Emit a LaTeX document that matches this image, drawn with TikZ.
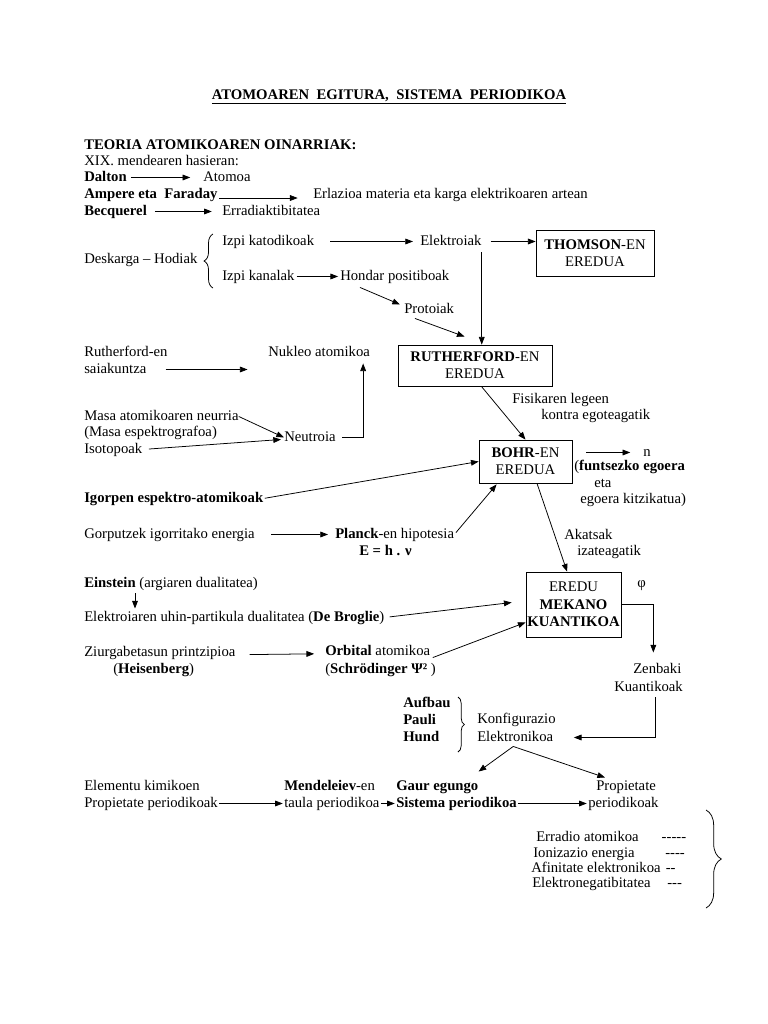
\documentclass[tikz,border=0pt]{standalone}
\usepackage{fontspec}
\setmainfont{Liberation Serif}
\usepackage{tikz}
\usetikzlibrary{calc,arrows.meta,decorations.pathreplacing}
% one unit = one pixel of the 768 x 1024 sheet
\newcommand\upx{0.0275cm}
\tikzset{
  txt/.style={anchor=base west, inner sep=0pt, text height=8pt, text depth=2.5pt},
  model/.style={draw, line width=0.6pt, align=center, inner sep=0pt},
  arr/.style={-{Triangle[length=6pt,width=4.5pt]}, line width=0.6pt},
  brc/.style={decorate, decoration={brace, amplitude=#1}, line width=0.6pt},
}

\begin{document}
\begin{tikzpicture}[x=\upx, y=-\upx, font=\fontsize{11.5}{13.5}\selectfont]
% sheet: origin top left, y runs downward
\fill[white] (0,0) rectangle (768,1024);
\useasboundingbox (0,0) rectangle (768,1024);
% Title and the early XIX century lines
\node[anchor=base, inner sep=0pt, font=\fontsize{11.5}{13.5}\selectfont\bfseries] (title)
  at (389,99) {\underline{ATOMOAREN\ \ EGITURA,\ \ SISTEMA\ \ PERIODIKOA}};
\node[txt] (head) at (84,149) {\textbf{TEORIA ATOMIKOAREN OINARRIAK:}};
\node[txt] (xix) at (84,165) {XIX. mendearen hasieran:};
\node[txt] (dalton) at (84,181) {\textbf{Dalton}};
\node[txt] (atomoa) at (203,181) {Atomoa};
\node[txt] (ampere) at (84,198) {\textbf{Ampere eta\ \ Faraday}};
\node[txt] (erlazio) at (313,198) {Erlazioa materia eta karga elektrikoaren artean};
\node[txt] (becq) at (84,215) {\textbf{Becquerel}};
\node[txt] (errad) at (222,215) {Erradiaktibitatea};
\draw[arr, shorten <=3pt, shorten >=10pt] (dalton.east) -- (atomoa.west);
\draw[arr, shorten <=1pt, shorten >=12pt] (ampere.base east) -- (erlazio.base west);
\draw[arr, shorten <=6pt, shorten >=8pt] (becq.east) -- (errad.west);
% Discharge tubes: cathode rays and canal rays
\node[txt] (deskarga) at (84,263) {Deskarga – Hodiak};
\node[txt] (izpikat) at (222,245) {Izpi katodikoak};
\node[txt] (elektroiak) at (420,245) {Elektroiak};
\node[txt] (izpikan) at (222,280) {Izpi kanalak};
\node[txt] (hondar) at (340,280) {Hondar positiboak};
\node[txt] (protoiak) at (404,313) {Protoiak};
\node[model, minimum width=118*\upx, minimum height=46*\upx] (thomson)
  at (595,253) {\textbf{THOMSON}-EN\\EREDUA};
\draw[brc=7pt] (213,288) -- (213,234);
\draw[arr, shorten <=12.5pt, shorten >=5.5pt] (izpikat.east) -- (elektroiak.west);
\draw[arr, shorten <=7pt] (elektroiak.east) -- (elektroiak.east -| thomson.west);
\draw[arr, shorten <=1.5pt, shorten >=1.5pt] (izpikan.east) -- (hondar.west);
\draw[arr] ([shift={(20,4)}]hondar.south west) -- ([shift={(-4,-5)}]protoiak.west);
% Rutherford
\node[txt] (rexp1) at (84,356) {Rutherford-en};
\node[txt] (rexp2) at (84,373) {saiakuntza};
\node[txt] (nukleo) at (268,356) {Nukleo atomikoa};
\node[model, minimum width=154*\upx, minimum height=41*\upx] (ruth)
  at (475,365.5) {\textbf{RUTHERFORD}-EN\\EREDUA};
\node[txt] (masa1) at (84,420) {Masa atomikoaren neurria};
\node[txt] (masa2) at (84,436) {(Masa espektrografoa)};
\node[txt] (isotop) at (84,453) {Isotopoak};
\node[txt] (neutroia) at (284,441) {Neutroia};
\node[txt] (fisik1) at (512,403) {Fisikaren legeen};
\node[txt] (fisik2) at (541,419) {kontra egoteagatik};
\draw[arr] ([shift={(11,2)}]protoiak.south west) -- ([shift={(67,-8)}]ruth.north west);
\draw[arr] ([yshift=-3pt]elektroiak.south east) -- (elektroiak.south east |- ruth.north);
\draw[arr, shorten <=15pt, shorten >=16pt] (rexp2.east) -- (rexp2.east -| nukleo.west);
\draw[arr] (masa1.east) -- (neutroia.west);
\draw[arr, shorten <=5pt] (isotop.east) -- ([shift={(-3,2)}]neutroia.west);
\draw[arr, shorten <=5pt] (neutroia.east) -| ([shift={(-7,4)}]nukleo.south east);
% Bohr
\node[model, minimum width=93*\upx, minimum height=43*\upx] (bohr)
  at (525.5,461.5) {\textbf{BOHR}-EN\\EREDUA};
\node[txt] (nlbl) at (643,456) {n};
\node[txt] (funts) at (574,470) {(\textbf{funtsezko egoera}};
\node[txt] (eta) at (594,487) {eta};
\node[txt] (kitzik) at (580,503) {egoera kitzikatua)};
\node[txt] (igorpen) at (84,502) {\textbf{Igorpen espektro-atomikoak}};
\node[txt] (gorputz) at (84,538) {Gorputzek igorritako energia};
\node[txt] (planck) at (335,538) {\textbf{Planck}-en hipotesia};
\node[txt] (emc) at (359,555) {\textbf{E = h . ν}};
\node[txt] (akats1) at (564,539) {Akatsak};
\node[txt] (akats2) at (577,555) {izateagatik};
\draw[arr] ([xshift=5pt]ruth.south) -- (bohr.north);
\draw[arr, shorten <=11pt, shorten >=10pt] (nlbl.west -| bohr.east) -- (nlbl.west);
\draw[arr, shorten <=1pt] (igorpen.east) -- (bohr.west);
\draw[arr, shorten <=13pt, shorten >=5.5pt] (gorputz.east) -- (planck.west);
\draw[arr, shorten <=2pt] (planck.east) -- ([shift={(18,1)}]bohr.south west);
% Quantum mechanical model
\node[model, minimum width=95*\upx, minimum height=65*\upx] (mekano)
  at (573.5,604.5) {EREDU\\\textbf{MEKANO}\\\textbf{KUANTIKOA}};
\node[txt] (phi) at (637,587) {φ};
\node[txt] (einstein) at (84,587) {\textbf{Einstein} (argiaren dualitatea)};
\node[txt] (broglie) at (84,621) {Elektroiaren uhin-partikula dualitatea (\textbf{De Broglie})};
\node[txt] (ziurg) at (84,656) {Ziurgabetasun printzipioa};
\node[txt] (heis) at (113,673) {(\textbf{Heisenberg})};
\node[txt] (orbital) at (325,655) {\textbf{Orbital} atomikoa};
\node[txt] (schrod) at (325,673) {(\textbf{Schrödinger Ψ²} )};
\node[txt] (zenb1) at (633,673) {Zenbaki};
\node[txt] (zenb2) at (614,691) {Kuantikoak};
\draw[arr] ([xshift=9pt]bohr.south) -- ([xshift=-5pt]mekano.north);
\draw[arr] ([shift={(51,3)}]einstein.south west) -- ([shift={(51,-2)}]broglie.north west);
\draw[arr, shorten <=4pt] (broglie.east) -- ([shift={(-14,-2)}]mekano.west);
\draw[arr, shorten <=11pt, shorten >=8.5pt] ([yshift=1pt]ziurg.base east) -- ([yshift=1pt]orbital.base west);
\draw[arr, shorten <=2pt] (orbital.south east) -- ([shift={(0,-15)}]mekano.south west);
\draw[arr] (mekano.east) -| ([shift={(-4,-10)}]zenb1.north);
% Electron configuration
\node[txt] (aufbau) at (403,707) {\textbf{Aufbau}};
\node[txt] (pauli) at (403,724) {\textbf{Pauli}};
\node[txt] (hund) at (403,741) {\textbf{Hund}};
\node[txt] (konf1) at (477,723) {Konfigurazio};
\node[txt] (konf2) at (477,741) {Elektronikoa};
\draw[brc=5pt] (458,697) -- (458,752);
\draw[arr, shorten >=16pt] ([shift={(7,3)}]zenb2.south) |- (konf2.east);
% Periodic table row
\node[txt] (elem1) at (84,790) {Elementu kimikoen};
\node[txt] (elem2) at (84,807) {Propietate periodikoak};
\node[txt] (mend1) at (284,790) {\textbf{Mendeleiev}-en};
\node[txt] (mend2) at (284,807) {taula periodikoa};
\node[txt] (gaur1) at (396,790) {\textbf{Gaur egungo}};
\node[txt] (gaur2) at (396,807) {\textbf{Sistema periodikoa}};
\node[txt] (prop1) at (596,790) {Propietate};
\node[txt] (prop2) at (588,807) {periodikoak};
\draw[arr] ([shift={(-2,2)}]konf2.south) -- ([shift={(0,-8)}]gaur1.north east);
\draw[arr] ([shift={(-2,2)}]konf2.south) -- ([shift={(9,-2)}]prop1.north west);
\draw[arr, shorten <=1pt, shorten >=1pt] (elem2.east) -- (mend2.west);
\draw[arr, shorten <=1pt, shorten >=1pt] (mend2.east) -- (gaur2.west);
\draw[arr, shorten <=1pt, shorten >=1pt] (gaur2.east) -- (prop2.west);
% Periodic properties
\node[txt] (erradio) at (536,841) {Erradio atomikoa\hspace{18pt}-{}-{}-{}-{}-};
\node[txt] (ioniz) at (533,857) {Ionizazio energia\hspace{24pt}-{}-{}-{}-};
\node[txt] (afinit) at (531,872) {Afinitate elektronikoa\hspace{4pt}-{}-};
\node[txt] (elneg) at (532,887) {Elektronegatibitatea\hspace{13pt}-{}-{}-};
\draw[brc=12pt] (706,810) -- (706,908);
\end{tikzpicture}
\end{document}
